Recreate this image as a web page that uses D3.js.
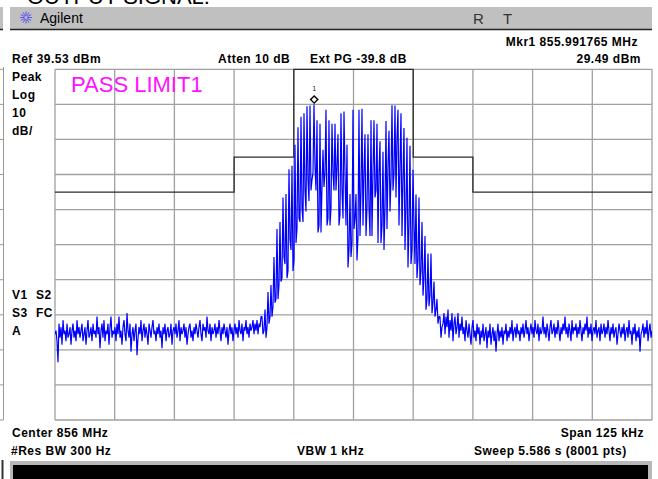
<!DOCTYPE html>
<html><head><meta charset="utf-8">
<script src="https://cdn.jsdelivr.net/npm/d3@7"></script>
<style>html,body{margin:0;padding:0;background:#fff;overflow:hidden}</style>
</head><body><svg id="c" width="658" height="479"></svg>
<script>
// ---- instrument settings ----
const centerMHz = 856;
const spanKHz = 125;
const refLevelDbm = 39.53;
const dbPerDiv = 10;
const divisions = 10;
const sweepStepKHz = 125 / 597;           // display point spacing
const segmentStartKHz = [-62.5, -19.16, 18.74];

// ---- trace values (dBm) ----
const noiseLeftDbm = [
-36,-35,-38,-44,-33,-37,-34,-39,-32,-36,-35,-38,-33,-37,-36,-34,-39,-35,-33,-37,
-35,-38,-32,-36,-34,-37,-35,-33,-38,-36,-34,-39,-35,-32,-37,-36,-34,-38,-33,-36,
-35,-37,-31,-36,-34,-40,-35,-33,-37,-32,-38,-35,-36,-33,-39,-34,-31,-37,-35,-36,
-34,-38,-33,-36,-31,-37,-35,-39,-34,-32,-36,-38,-30,-35,-37,-33,-41,-36,-34,-38,
-35,-33,-42,-37,-34,-36,-32,-38,-35,-33,-37,-34,-36,-39,-33,-35,-37,-34,-32,-36,
-35,-38,-34,-36,-33,-37,-35,-40,-34,-36,-33,-38,-35,-34,-37,-36,-33,-39,-35,-34,
-36,-33,-37,-35,-32,-38,-34,-36,-35,-33,-37,-34,-39,-36,-34,-33,-37,-35,-38,-34,
-36,-33,-35,-37,-34,-32,-36,-38,-33,-35,-34,-37,-31,-35,-36,-33,-38,-34,-36,-35,
-33,-37,-34,-36,-32,-35,-38,-34,-36,-33,-35,-37,-34,-39,-35,-33,-36,-34,-38,-35,
-33,-36,-34,-37,-32,-35,-36,-33,-38,-34,-35,-32,-36,-34,-37,-33,-35,-34,-32,-36,
-33,-35,-32,-36,-33,-34,-31
];
// occupied band: peak, trough, trough ... per spike
const bandDbm = [
-31,-36,-35,  -29,-37,-34,  -24,-33,-31,  -22,-31,-28,
-14,-27,-26,  -6,-26,-22,   -4,-21,-20,   3,-14,-16,
4,-20,-18,    11,-9,-12,    12,-18,-15,   18,-10,-6,
23,-3,-4,     26,0,-4,      27,5,-1,      29,8,2,
29.2,5,8,10,
29.49,12,5,   25,-7,-5,     24,-7,6,      16.6,6,10,
28,-5,-3,     25,-5,0,      24,10,5,      24,5,12,
21,-5,-2,     27,5,-3,      27.5,10,-5,   18,-17,-12,
4,-14,-10,    28,-6,-3,     4,-15,-8,     28,-8,5,
28.3,-5,10,   21,-8,0,      21,0,-8,      25,-8,10,
25,3,5,       24,-10,10,    19,-10,-5,    16,-12,0,
24.8,-6,12,   22,-1,8,      29.3,5,10,    29.2,3,20,
28,-5,12,     27,-8,8,      22.8,-12,0,   20,-17,-5,
17.7,-16,-12, 10.9,-5,-16,  3.8,-20,-15,  3,-22,-18,
-4,-25,-20,   -8,-29,-26,   -13,-28,-25,  -13,-30,-27,
-21,-31,-29,  -26,-33,-31,  -31,-37,-34
];
const noiseRightDbm = [
-33,-30,-36,-31,-34,-29,-37,-32,-35,-30,-38,-33,-31,-36,-34,-30,-37,-33,-35,-31,
-36,-34,-38,-32,-35,-37,-33,-36,-39,-34,-32,-37,-35,-38,-33,-36,-34,-39,-35,-37,
-33,-38,-36,-34,-40,-35,-37,-33,-39,-36,-34,-38,-35,-41,-36,-33,-38,-35,-37,-34,
-39,-35,-36,-33,-38,-35,-37,-34,-36,-32,-38,-35,-34,-37,-33,-36,-35,-38,-34,-36,
-33,-37,-35,-32,-36,-34,-38,-35,-33,-36,-34,-37,-32,-35,-36,-33,-38,-34,-36,-35,
-31,-36,-34,-37,-33,-35,-38,-34,-32,-36,-35,-33,-37,-34,-36,-32,-35,-38,-34,-36,
-33,-35,-31,-36,-34,-37,-33,-35,-38,-32,-36,-34,-35,-33,-37,-34,-36,-32,-35,-38,
-34,-36,-33,-35,-31,-37,-34,-36,-33,-38,-35,-34,-36,-32,-37,-35,-34,-38,-33,-36,
-35,-33,-37,-34,-36,-32,-35,-38,-34,-36,-33,-37,-35,-34,-39,-36,-33,-35,-37,-34,
-36,-33,-38,-35,-34,-37,-32,-36,-35,-39,-34,-36,-33,-38,-35,-37,-34,-41,-36,-35,
-33,-37,-34,-36,-32,-38,-35,-33,-37,-35
];

// ---- limit line ----
const limitKHz = [-62.5, -25, -25, -12.5, -12.5, 12.5, 12.5, 25, 25, 62.5];
const limitDbm = [4.5, 4.5, 14.5, 14.5, 39.5, 39.5, 14.5, 14.5, 4.5, 4.5];

// ---- marker ----
const markerMHz = 855.991765;
const markerDbm = 29.49;

// ---- annotation texts ----
const titleText = "OUTPUT SIGNAL:";
const brandText = "Agilent";
const statusText = ["R", "T"];
const attenText = "Atten 10 dB";
const extText = "Ext PG -39.8 dB";
const scaleText = ["Peak", "Log", "10", "dB/"];
const modeText = [["V1", "S2"], ["S3", "FC"], ["A", ""]];
const limitText = "PASS LIMIT1";
const rbwText = "#Res BW 300 Hz";
const vbwText = "VBW 1 kHz";
const sweepText = "Sweep 5.586 s (8001 pts)";

// ================= drawing =================
const svg = d3.select("#c");
const W = 658, H = 479;
const L = 55, R = 652, T = 69.3, B = 420;

svg.append("rect").attr("width", W).attr("height", H).attr("fill", "#fff");

const x = d3.scaleLinear().domain([-spanKHz / 2, spanKHz / 2]).range([L, R]);
const y = d3.scaleLinear().domain([refLevelDbm - dbPerDiv * divisions, refLevelDbm]).range([B, T]);

// title (cut off at top, as in the source screenshot)
svg.append("text").attr("x", 27).attr("y", 4)
  .attr("font-family", "Liberation Sans, Arial, sans-serif").attr("font-size", 22)
  .attr("fill", "#000").text(titleText);

// header bar
svg.append("rect").attr("x", 0).attr("y", 7).attr("width", 3).attr("height", 22).attr("fill", "#c0c0c0");
svg.append("rect").attr("x", 10).attr("y", 7).attr("width", 642).attr("height", 22).attr("fill", "#c0c0c0");
svg.append("line").attr("x1", 10).attr("x2", 652).attr("y1", 29.5).attr("y2", 29.5)
  .attr("stroke", "#222").attr("stroke-width", 1.5);
svg.append("line").attr("x1", 0).attr("x2", 3).attr("y1", 29.5).attr("y2", 29.5)
  .attr("stroke", "#222").attr("stroke-width", 1.5);

// logo starburst
const logo = svg.append("g").attr("transform", "translate(26,17.5)");
d3.range(12).forEach(k => {
  const a = k * Math.PI / 6;
  logo.append("line").attr("x1", Math.cos(a) * 1.5).attr("y1", Math.sin(a) * 1.5)
    .attr("x2", Math.cos(a) * 6).attr("y2", Math.sin(a) * 6)
    .attr("stroke", "#3a3aff").attr("stroke-width", 0.8);
});
svg.append("text").attr("x", 40).attr("y", 22.5)
  .attr("font-family", "Liberation Sans, Arial, sans-serif").attr("font-size", 14)
  .attr("fill", "#000").text(brandText);
svg.append("text").attr("x", 473).attr("y", 23.5)
  .attr("font-family", "Liberation Sans, Arial, sans-serif").attr("font-size", 15)
  .attr("fill", "#333").text(statusText[0]);
svg.append("text").attr("x", 503).attr("y", 23.5)
  .attr("font-family", "Liberation Sans, Arial, sans-serif").attr("font-size", 15)
  .attr("fill", "#333").text(statusText[1]);

// left neighbouring window edge
const ticksY = d3.range(divisions + 1).map(i => refLevelDbm - i * dbPerDiv);
svg.append("line").attr("x1", 3.5).attr("x2", 3.5).attr("y1", 67).attr("y2", B)
  .attr("stroke", "#9a9a9a").attr("stroke-width", 1);
svg.selectAll("line.lt").data(ticksY).join("line").attr("class", "lt")
  .attr("x1", 0).attr("x2", 3.5).attr("y1", d => y(d)).attr("y2", d => y(d))
  .attr("stroke", "#9a9a9a").attr("stroke-width", 1);

// header labels
const bold = sel => sel.attr("font-family", "Liberation Sans, Arial, sans-serif")
  .attr("font-weight", "bold").attr("font-size", 12).attr("letter-spacing", 0.5).attr("fill", "#000");
const t = (tx, xx, yy, anchor) => svg.append("text").attr("x", xx).attr("y", yy)
  .attr("text-anchor", anchor || "start").call(bold).text(tx);

t(`Mkr1  ${markerMHz} MHz`, 638, 45.5, "end");
t(`Ref ${refLevelDbm} dBm`, 12, 63.3);
t(attenText, 218, 63.3);
t(extText, 310, 63.3);
t(`${markerDbm} dBm`, 641, 63.3, "end");
scaleText.forEach((s, i) => t(s, 12, 81 + i * 18));
modeText.forEach((row, i) => { t(row[0], 12, 299 + i * 18); t(row[1], 36, 299 + i * 18); });
t(`Center ${centerMHz} MHz`, 12, 437);
t(`Span ${spanKHz} kHz`, 644, 437, "end");
t(rbwText, 11, 455);
t(vbwText, 297, 455);
t(sweepText, 474, 455);

// grid
const gx = d3.range(divisions + 1).map(i => -spanKHz / 2 + i * spanKHz / divisions);
svg.selectAll("line.gx").data(gx).join("line").attr("class", "gx")
  .attr("x1", d => x(d)).attr("x2", d => x(d)).attr("y1", T).attr("y2", B)
  .attr("stroke", "#a0a0a0").attr("stroke-width", 1.3);
svg.selectAll("line.gy").data(ticksY).join("line").attr("class", "gy")
  .attr("x1", L).attr("x2", R).attr("y1", d => y(d)).attr("y2", d => y(d))
  .attr("stroke", "#a0a0a0").attr("stroke-width", 1.3);

// limit line
const limitPts = limitKHz.map((f, i) => [f, limitDbm[i]]);
svg.append("path").datum(limitPts)
  .attr("d", d3.line().x(d => x(d[0])).y(d => y(d[1])))
  .attr("fill", "none").attr("stroke", "#2a2a2a").attr("stroke-width", 1.3);

// PASS LIMIT text
svg.append("text").attr("x", 71).attr("y", 92)
  .attr("font-family", "Liberation Sans, Arial, sans-serif").attr("font-size", 22)
  .attr("fill", "#ff10ff").text(limitText);

// trace
const segs = [noiseLeftDbm, bandDbm, noiseRightDbm];
const tracePts = [];
segs.forEach((arr, s) => arr.forEach((v, i) => tracePts.push([segmentStartKHz[s] + i * sweepStepKHz, v])));
svg.append("clipPath").attr("id", "clip").append("rect")
  .attr("x", L).attr("y", T - 1).attr("width", R - L).attr("height", B - T + 1);
svg.append("path").datum(tracePts).attr("clip-path", "url(#clip)")
  .attr("d", d3.line().x(d => x(d[0])).y(d => y(d[1])))
  .attr("fill", "none").attr("stroke", "#0000ff").attr("stroke-width", 1.2)
  .attr("stroke-linejoin", "bevel");

// marker
const mk = (markerMHz - centerMHz) * 1000;
const mx = x(mk), my = y(markerDbm) - 5;
svg.append("path").attr("transform", `translate(${mx},${my}) rotate(45)`)
  .attr("d", d3.symbol(d3.symbolSquare, 26)())
  .attr("fill", "#fff").attr("stroke", "#000").attr("stroke-width", 1.4);
svg.append("text").attr("x", mx).attr("y", my - 9).attr("text-anchor", "middle")
  .attr("font-family", "DejaVu Sans, sans-serif").attr("font-size", 7).attr("fill", "#333").text("1");

// bottom bar
svg.append("rect").attr("x", 10).attr("y", 461).attr("width", 642).attr("height", 18).attr("fill", "#b8b8b8");
svg.append("rect").attr("x", 13).attr("y", 465).attr("width", 635).attr("height", 14).attr("fill", "#000");
svg.append("line").attr("x1", 2.5).attr("x2", 2.5).attr("y1", 460).attr("y2", 479)
  .attr("stroke", "#333").attr("stroke-width", 2);
</script>
</body></html>
